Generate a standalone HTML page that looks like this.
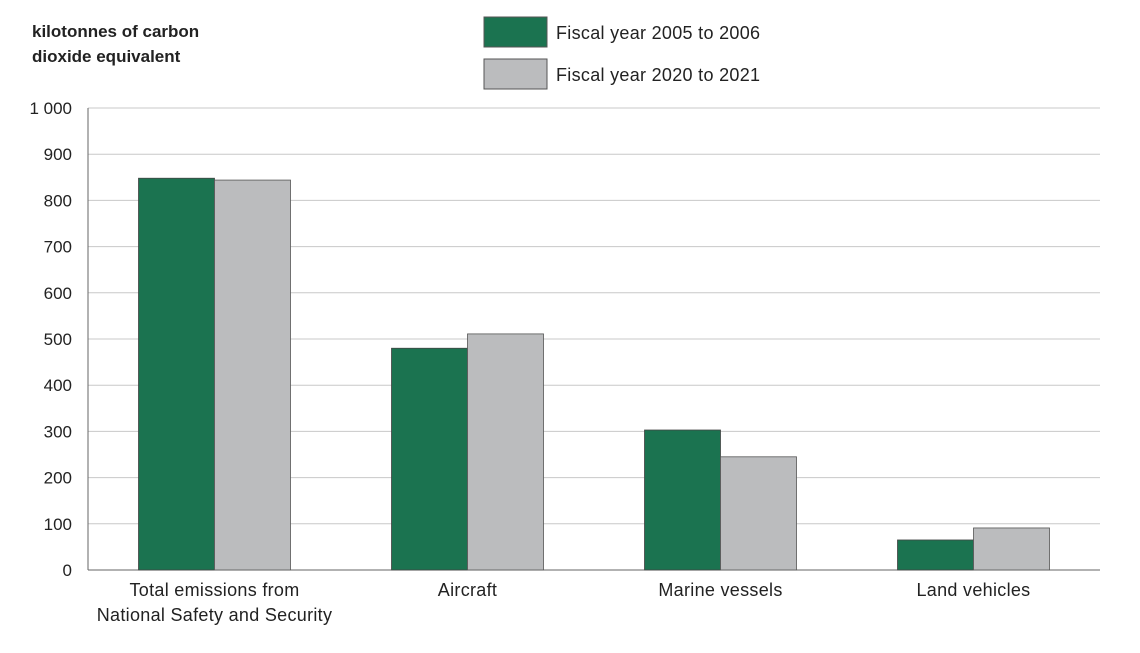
<!DOCTYPE html>
<html><head><meta charset="utf-8"><style>
body{margin:0;background:#fff;font-family:"Liberation Sans",sans-serif;}
svg text{font-family:"Liberation Sans",sans-serif;fill:#222;}
</style></head><body>
<svg width="1140" height="648">
<text x="32" y="37" font-size="17" font-weight="bold">kilotonnes of carbon</text>
<text x="32" y="62" font-size="17" font-weight="bold">dioxide equivalent</text>
<g>
<rect x="484" y="17" width="63" height="30" fill="#1b7350" stroke="#555"/>
<text x="556" y="39" font-size="18" letter-spacing="0.3">Fiscal year 2005 to 2006</text>
<rect x="484" y="59" width="63" height="30" fill="#bbbcbe" stroke="#555"/>
<text x="556" y="81" font-size="18" letter-spacing="0.3">Fiscal year 2020 to 2021</text>
</g>
<g id="grid"></g><g id="bars"></g><g id="labels"></g>
</svg>
<script>
const categories=[["Total emissions from","National Safety and Security"],["Aircraft"],["Marine vessels"],["Land vehicles"]];
const series2005=[848,480,303,65];
const series2020=[844,511,245,91];
const yTicks=[0,100,200,300,400,500,600,700,800,900,1000];
const tickLabels=["0","100","200","300","400","500","600","700","800","900","1 000"];
const NS="http://www.w3.org/2000/svg";
const x0=88,x1=1100,y0=570,y1=108;
const y=v=>y0-(v/1000)*(y0-y1);
const bw=(x1-x0)/categories.length;
const grid=document.getElementById('grid'),bars=document.getElementById('bars'),labels=document.getElementById('labels');
function mk(tag,attrs,parent){const e=document.createElementNS(NS,tag);for(const k in attrs)e.setAttribute(k,attrs[k]);parent.appendChild(e);return e;}
yTicks.forEach((t,i)=>{
 const l=mk('line',{x1:x0,x2:x1,y1:y(t),y2:y(t),stroke:t===0?'#666':'#c8c8c8','stroke-width':1},grid);
 
 
 const tx=mk('text',{x:72,y:y(t)+6,'font-size':17,'text-anchor':'end'},grid);
 tx.textContent=tickLabels[i];
 
 
});
const ax=mk('line',{x1:x0,x2:x0,y1:y1,y2:y0,stroke:'#666'},grid);


categories.forEach((c,i)=>{
 const cx=x0+bw*(i+0.5);
 const a=mk('rect',{x:cx-76,y:y(series2005[i]),width:76,height:y0-y(series2005[i]),fill:'#1b7350',stroke:'#444','stroke-width':0.8},bars);
 
 
 const b=mk('rect',{x:cx,y:y(series2020[i]),width:76,height:y0-y(series2020[i]),fill:'#bbbcbe',stroke:'#555','stroke-width':0.8},bars);
 
 
 c.forEach((line,j)=>{
  const t=mk('text',{x:cx,y:596+j*25,'font-size':18,'letter-spacing':0.3,'text-anchor':'middle'},labels);
  t.textContent=line;
  
  
 });
});
</script>
</body></html>
